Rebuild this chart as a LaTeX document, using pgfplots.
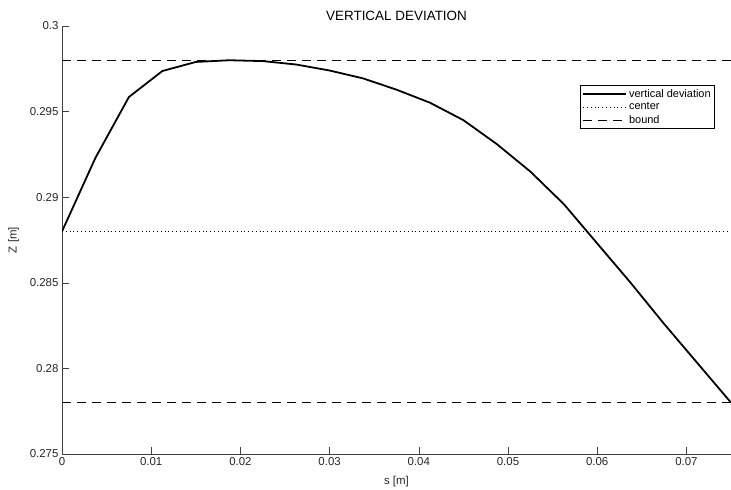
\documentclass[border=0pt]{standalone}
\usepackage{pgfplots}
\pgfplotsset{compat=1.18}
\usepackage{fontspec}
\setmainfont{Liberation Sans}

% vertical deviation Z along the path s
\pgfplotstableread{
s        z
0.00000  0.28800
0.00375  0.29230
0.00750  0.29585
0.01125  0.29737
0.01500  0.29790
0.01875  0.29800
0.02250  0.29795
0.02625  0.29775
0.03000  0.29740
0.03375  0.29694
0.03750  0.29628
0.04125  0.29552
0.04500  0.29450
0.04875  0.29310
0.05250  0.29150
0.05625  0.28960
0.06000  0.28730
0.06375  0.28500
0.06750  0.28260
0.07125  0.28030
0.07500  0.27800
}\devtable

\begin{document}
\begin{tikzpicture}
\begin{axis}[
  scale only axis,
  width=669bp, height=428bp,
  xmin=0, xmax=0.075,
  ymin=0.275, ymax=0.3,
  axis lines=left,
  axis line style={-, black!75, line width=0.5bp},
  tick style={black!75, line width=0.5bp},
  tick align=inside,
  major tick length=7bp,
  xtick={0,0.01,...,0.07},
  ytick={0.275,0.28,...,0.3},
  scaled ticks=false,
  xticklabel style={/pgf/number format/.cd, fixed, precision=3},
  yticklabel style={/pgf/number format/.cd, fixed, precision=3},
  /pgf/number format/assume math mode=true,
  ticklabel style={font=\fontsize{11.5}{13}\selectfont, text=black!85},
  xlabel={s [m]},
  ylabel={Z [m]},
  label style={font=\fontsize{11.5}{13}\selectfont, text=black!85},
  xlabel style={yshift=-4bp},
  ylabel style={yshift=4bp},
  title={VERTICAL DEVIATION},
  title style={font=\fontsize{13.5}{15}\selectfont, yshift=-4bp},
  legend style={at={(rel axis cs:0.976,0.862)}, anchor=north east,
    draw=black, line width=0.5bp, font=\fontsize{11}{12.5}\selectfont,
    inner sep=2bp, row sep=0bp, cells={anchor=west}},
  legend cell align=left,
  legend image code/.code={\draw[#1] (0bp,0bp) -- (43bp,0bp);},
]
\addplot[black, line width=1.8bp] table[x=s, y=z] {\devtable};
\addlegendentry{vertical deviation}
\addplot[black, line width=0.6bp, dash pattern=on 0.8bp off 3bp] coordinates {(0,0.288) (0.075,0.288)};
\addlegendentry{center}
\addplot[black, line width=0.6bp, dash pattern=on 9bp off 6bp] coordinates {(0,0.298) (0.075,0.298)};
\addlegendentry{bound}
\addplot[black, line width=0.6bp, dash pattern=on 9bp off 6bp, forget plot] coordinates {(0,0.278) (0.075,0.278)};
\end{axis}
\pgfresetboundingbox
\path[use as bounding box] ([xshift=-62bp, yshift=-36bp]current axis.south west) rectangle ([yshift=26bp]current axis.north east);
\end{tikzpicture}
\end{document}
